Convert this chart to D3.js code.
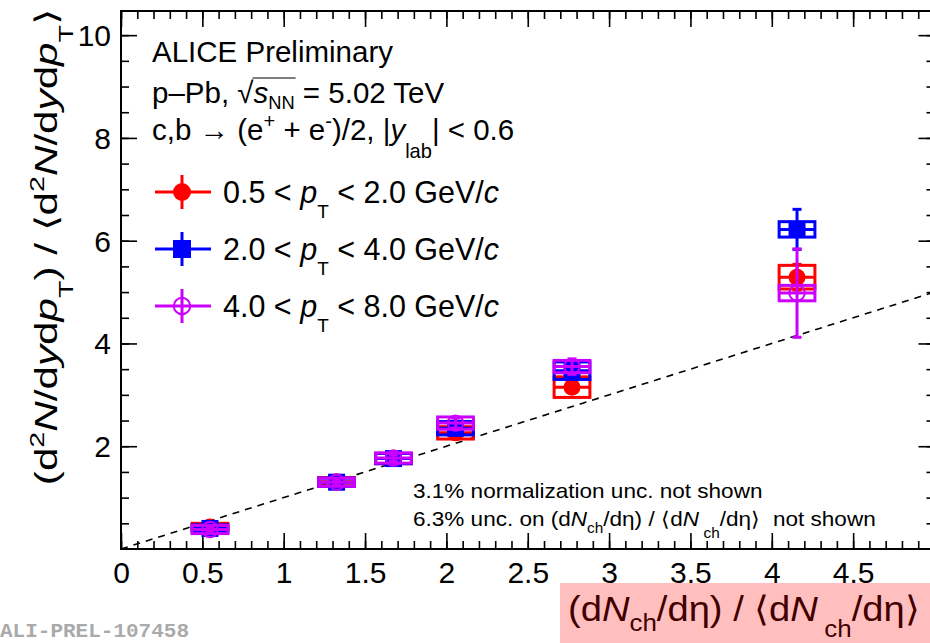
<!DOCTYPE html>
<html>
<head>
<meta charset="utf-8">
<script src="https://cdn.jsdelivr.net/npm/d3@7"></script>
<style>
  body { margin: 0; background: #fff; }
  svg { display: block; }
  text { font-family: "Liberation Sans", Arial, Helvetica, sans-serif; white-space: pre; }
</style>
</head>
<body>
<svg id="chart" width="930" height="643"></svg>
<script>
// Self-normalised multiplicity (x) for each event class
const multiplicity = [0.547, 1.325, 1.675, 2.056, 2.772, 4.155];

// pT intervals of the three series
const ptBins = [["0.5", "2.0"], ["2.0", "4.0"], ["4.0", "8.0"]];

// Self-normalised yields, 0.5 < pT < 2.0 GeV/c
const yieldLow  = [0.43, 1.31, 1.76, 2.26, 3.15, 5.29];
const statLow   = [0.03, 0.03, 0.04, 0.05, 0.07, 0.25];
const sysLow    = [0.07, 0.08, 0.10, 0.12, 0.20, 0.23];

// Self-normalised yields, 2.0 < pT < 4.0 GeV/c
const yieldMid  = [0.40, 1.30, 1.76, 2.35, 3.47, 6.22];
const statMid   = [0.03, 0.03, 0.04, 0.06, 0.09, 0.39];
const sysMid    = [0.07, 0.08, 0.10, 0.13, 0.17, 0.15];

// Self-normalised yields, 4.0 < pT < 8.0 GeV/c
const yieldHigh = [0.38, 1.30, 1.77, 2.45, 3.55, 4.98];
const statHigh  = [0.04, 0.05, 0.06, 0.10, 0.15, 0.86];
const sysHigh   = [0.08, 0.08, 0.10, 0.12, 0.12, 0.15];

// Axis tick values
const xMajorTicks = [0, 0.5, 1, 1.5, 2, 2.5, 3, 3.5, 4, 4.5];
const yMajorTicks = [2, 4, 6, 8, 10];

// Reference line y = x
const diagonal = [0, 5];

const series = [
  { y: yieldLow,  stat: statLow,  sys: sysLow,  color: "#ff0000", marker: "circle", bin: ptBins[0] },
  { y: yieldMid,  stat: statMid,  sys: sysMid,  color: "#0000ff", marker: "square", bin: ptBins[1] },
  { y: yieldHigh, stat: statHigh, sys: sysHigh, color: "#cc00ff", marker: "open",   bin: ptBins[2] }
];

const svg = d3.select("#chart");
const frame = { left: 121, right: 934.5, top: 11, bottom: 549 };

const x = d3.scaleLinear().domain([0, 5]).range([frame.left, frame.right]);
const y = d3.scaleLinear().domain([0, 10.47]).range([frame.bottom, frame.top]);

// Rich text helper: parts are [string, kind, options]
function richText(textSel, parts, size) {
  let shift = 0;
  parts.forEach(([str, kind, opt]) => {
    opt = opt || {};
    let target = 0;
    if (kind === "sub") target = size * (opt.drop !== undefined ? opt.drop : 0.5);
    if (kind === "sup") target = -size * (opt.rise !== undefined ? opt.rise : 0.42);
    const ts = textSel.append("tspan").text(str).attr("dy", target - shift);
    shift = target;
    if (kind === "sub" || kind === "sup") ts.attr("font-size", size * (opt.scale || 0.68));
    if (kind === "i") ts.attr("font-style", "italic");
    if (opt.dx) ts.attr("dx", opt.dx);
  });
  return textSel;
}

// Text placed at (tx, ty) and widened horizontally by sx
function stretchedText(parent, tx, ty, sx, size, extra) {
  return parent.append("text")
    .attr("transform", `translate(${tx},${ty}) ${extra || ""} scale(${sx},1)`)
    .attr("font-size", size);
}

// ---- axes ----
const axesG = svg.append("g");
const tickStyle = g => {
  g.select(".domain").remove();
  g.selectAll(".tick line").attr("stroke", "#000").attr("stroke-width", 1.6);
};
const minorX = d3.range(0, 50).map(i => i / 10);
const minorY = d3.range(1, 21).map(i => i / 2);

axesG.append("g").attr("transform", `translate(0,${frame.bottom})`)
  .call(d3.axisBottom(x).tickValues(minorX).tickSize(-8).tickSizeOuter(0).tickFormat(""))
  .call(tickStyle);
const xAxis = axesG.append("g").attr("transform", `translate(0,${frame.bottom})`)
  .call(d3.axisBottom(x).tickValues(xMajorTicks).tickSize(-16).tickSizeOuter(0).tickFormat(d => String(d)))
  .call(tickStyle);
xAxis.selectAll(".tick text").attr("y", 34).attr("dy", 0).attr("font-size", 30).attr("fill", "#000")
  .style("font-family", "'Liberation Sans', Arial, sans-serif");

axesG.append("g").attr("transform", `translate(0,${frame.top})`)
  .call(d3.axisTop(x).tickValues(minorX).tickSize(-8).tickSizeOuter(0).tickFormat(""))
  .call(tickStyle);
axesG.append("g").attr("transform", `translate(0,${frame.top})`)
  .call(d3.axisTop(x).tickValues(xMajorTicks).tickSize(-16).tickSizeOuter(0).tickFormat(""))
  .call(tickStyle);

axesG.append("g").attr("transform", `translate(${frame.left},0)`)
  .call(d3.axisLeft(y).tickValues(minorY).tickSize(-8).tickSizeOuter(0).tickFormat(""))
  .call(tickStyle);
const yAxis = axesG.append("g").attr("transform", `translate(${frame.left},0)`)
  .call(d3.axisLeft(y).tickValues(yMajorTicks).tickSize(-16).tickSizeOuter(0).tickPadding(10).tickFormat(d => String(d)))
  .call(tickStyle);
yAxis.selectAll(".tick text").attr("dy", "0.35em").attr("font-size", 30).attr("fill", "#000")
  .style("font-family", "'Liberation Sans', Arial, sans-serif");

axesG.append("g").attr("transform", `translate(${frame.right},0)`)
  .call(d3.axisRight(y).tickValues(minorY).tickSize(-8).tickSizeOuter(0).tickFormat(""))
  .call(tickStyle);
axesG.append("g").attr("transform", `translate(${frame.right},0)`)
  .call(d3.axisRight(y).tickValues(yMajorTicks).tickSize(-16).tickSizeOuter(0).tickFormat(""))
  .call(tickStyle);

svg.append("rect")
  .attr("x", frame.left).attr("y", frame.top)
  .attr("width", frame.right - frame.left).attr("height", frame.bottom - frame.top)
  .attr("fill", "none").attr("stroke", "#000").attr("stroke-width", 2);

// ---- reference line ----
svg.append("line")
  .attr("x1", x(diagonal[0])).attr("y1", y(diagonal[0]))
  .attr("x2", x(diagonal[1])).attr("y2", y(diagonal[1]))
  .attr("stroke", "#000").attr("stroke-width", 1.6).attr("stroke-dasharray", "7,6");

// ---- markers ----
function drawMarker(g, cx, cy, kind, color, r) {
  if (kind === "circle") {
    g.append("circle").attr("cx", cx).attr("cy", cy).attr("r", r).attr("fill", color);
  } else if (kind === "square") {
    g.append("rect").attr("x", cx - r).attr("y", cy - r).attr("width", 2 * r).attr("height", 2 * r).attr("fill", color);
  } else {
    g.append("circle").attr("cx", cx).attr("cy", cy).attr("r", r - 0.8).attr("fill", "none")
      .attr("stroke", color).attr("stroke-width", 2);
  }
}

const boxHalf = 0.11;
const capHalf = 4.5;
const plotG = svg.append("g");

series.forEach(s => {
  const g = plotG.append("g");
  multiplicity.forEach((m, i) => {
    const cx = x(m), cy = y(s.y[i]);
    const top = y(s.y[i] + s.sys[i]), bot = y(s.y[i] - s.sys[i]);
    // systematic box
    g.append("rect")
      .attr("x", x(m - boxHalf)).attr("y", top)
      .attr("width", x(m + boxHalf) - x(m - boxHalf)).attr("height", bot - top)
      .attr("fill", "none").attr("stroke", s.color).attr("stroke-width", 3);
    g.append("line")
      .attr("x1", x(m - boxHalf)).attr("x2", x(m + boxHalf))
      .attr("y1", cy).attr("y2", cy)
      .attr("stroke", s.color).attr("stroke-width", 3);
    // statistical bar
    const st = y(s.y[i] + s.stat[i]), sb = y(s.y[i] - s.stat[i]);
    g.append("line").attr("x1", cx).attr("x2", cx).attr("y1", st).attr("y2", sb)
      .attr("stroke", s.color).attr("stroke-width", 3);
    [st, sb].forEach(yy => g.append("line")
      .attr("x1", cx - capHalf).attr("x2", cx + capHalf).attr("y1", yy).attr("y2", yy)
      .attr("stroke", s.color).attr("stroke-width", 3));
    drawMarker(g, cx, cy, s.marker, s.color, 8.5);
  });
});

// ---- header text ----
const hdr = svg.append("g").attr("fill", "#000");
const HS = 29.5;
hdr.append("text").attr("x", 152).attr("y", 62).attr("font-size", HS).text("ALICE Preliminary");

const line2 = hdr.append("text").attr("x", 152).attr("y", 103).attr("font-size", HS);
richText(line2, [
  ["p\u2013Pb, ", ""], ["\u221A", ""], ["s", "i"], ["NN", "sub", { drop: 0.2, scale: 0.62 }], [" = 5.02 TeV", ""]
], HS);

const line3 = hdr.append("text").attr("x", 152).attr("y", 140).attr("font-size", HS);
richText(line3, [
  ["c,b \u2192 (e", ""], ["+", "sup", { rise: 0.4 }], [" + e", ""], ["-", "sup", { rise: 0.4 }],
  [")/2, |", ""], ["y", "i"], ["lab", "sub", { drop: 0.6 }], ["| < 0.6", ""]
], HS);

// overline of the square root, measured from the rendered characters
(function () {
  const node = line2.node();
  const full = node.textContent;
  const iRoot = full.indexOf("\u221A");
  const iEnd = full.indexOf(" = ");
  const a = node.getExtentOfChar(iRoot);
  const b = node.getExtentOfChar(iEnd - 1);
  hdr.append("line")
    .attr("x1", a.x + a.width - 1).attr("x2", b.x + b.width + 1)
    .attr("y1", a.y + 2).attr("y2", a.y + 2)
    .attr("stroke", "#000").attr("stroke-width", 1);
})();

// ---- legend ----
const legend = svg.append("g");
const legendY = [192, 249, 306];
const LS = 30.5;
series.forEach((s, k) => {
  const ly = legendY[k];
  legend.append("line").attr("x1", 155).attr("x2", 211).attr("y1", ly).attr("y2", ly)
    .attr("stroke", s.color).attr("stroke-width", 3);
  legend.append("line").attr("x1", 182).attr("x2", 182).attr("y1", ly - 17).attr("y2", ly + 17)
    .attr("stroke", s.color).attr("stroke-width", 3);
  drawMarker(legend, 182, ly, s.marker, s.color, 9);
  const t = legend.append("text").attr("x", 223).attr("y", ly + 11).attr("font-size", LS);
  richText(t, [
    [`${s.bin[0]} < `, ""], ["p", "i"], ["T", "sub", { drop: 0.5, scale: 0.62 }], [` < ${s.bin[1]} GeV/`, ""], ["c", "i"]
  ], LS);
});

// ---- notes ----
const NS = 20.5;
const notes = svg.append("g");
stretchedText(notes, 413, 498, 1.1, NS).text("3.1% normalization unc. not shown");
const note2 = stretchedText(notes, 413, 526, 1.1, NS);
richText(note2, [
  ["6.3% unc. on (d", ""], ["N", "i"], ["ch", "sub", { drop: 0.35 }], ["/d\u03B7) / \u27E8d", ""], ["N", "i"],
  ["ch", "sub", { drop: 0.6, dx: 4 }], ["/d\u03B7\u27E9\u00A0\u00A0not shown", ""]
], NS);

// ---- axis titles ----
const yTitle = stretchedText(svg, 57, 9, 1.36, 31, "rotate(-90)").attr("text-anchor", "end");
richText(yTitle, [
  ["(d", ""], ["2", "sup", { rise: 0.42 }], ["N", "i"], ["/d", ""], ["y", "i"], ["d", ""], ["p", "i"],
  ["T", "sub", { drop: 0.5 }], [")\u00A0/\u00A0\u27E8d", ""], ["2", "sup", { rise: 0.42 }], ["N", "i"], ["/d", ""],
  ["y", "i"], ["d", ""], ["p", "i"], ["T", "sub", { drop: 0.5 }], ["\u27E9", ""]
], 31);

const xTitle = stretchedText(svg, 568, 621, 1.09, 35);
richText(xTitle, [
  ["(d", ""], ["N", "i"], ["ch", "sub", { drop: 0.28 }], ["/d\u03B7) / \u27E8d", ""], ["N", "i"],
  ["ch", "sub", { drop: 0.45, dx: 6 }], ["/d\u03B7\u27E9", ""]
], 35);

// translucent highlight laid over the x title
svg.append("rect").attr("x", 560).attr("y", 583).attr("width", 370).attr("height", 60)
  .attr("fill", "#ff0000").attr("fill-opacity", 0.25);

// ---- figure id ----
svg.append("text").attr("x", 0).attr("y", 637)
  .style("font-family", "'Liberation Mono', 'DejaVu Sans Mono', monospace")
  .attr("font-weight", "bold").attr("font-size", 21).attr("fill", "#aaaaaa")
  .text("ALI-PREL-107458");
</script>
</body>
</html>
